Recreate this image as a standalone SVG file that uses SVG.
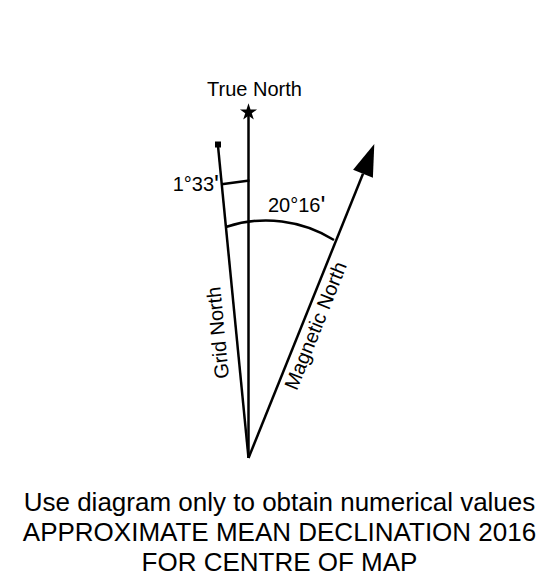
<svg xmlns="http://www.w3.org/2000/svg" width="559" height="588" viewBox="0 0 559 588">
<style>
  .ln { stroke: #000; stroke-width: 2.5; fill: none; }
  .t { font-family: "Liberation Sans", Arial, sans-serif; font-size: 20px; fill: #000; }
  .p { font-size: 26px; }
  .b { font-family: "Liberation Sans", Arial, sans-serif; font-size: 26px; fill: #000; text-anchor: middle; }
</style>
<rect width="559" height="588" fill="#fff"/>
<g id="connectors">
  <line class="ln" x1="248.5" y1="458" x2="248.5" y2="112"/>
  <line class="ln" x1="248.5" y1="458" x2="218" y2="146"/>
  <line class="ln" x1="248.5" y1="458" x2="363" y2="173.7"/>
  <line class="ln" x1="221.5" y1="184.3" x2="249.5" y2="180.5"/>
  <path class="ln" d="M 226.7 226.7 A 128 128 0 0 1 334 240"/>
</g>
<g id="true-north">
  <polygon fill="#000" points="248.5,103.3 250.52,109.51 257.05,109.51 251.77,113.35 253.79,119.56 248.5,115.72 243.21,119.56 245.23,113.35 239.95,109.51 246.48,109.51"/>
  <text class="t" x="207" y="96">True North</text>
</g>
<g id="grid-north">
  <rect x="215" y="141.5" width="6" height="6" fill="#000"/>
  <text class="t" transform="translate(229,378) rotate(-95.5)">Grid North</text>
</g>
<g id="magnetic-north">
  <polygon fill="#000" points="374.3,144 353.1,169.7 372.9,177.7"/>
  <text class="t" transform="translate(296.8,391.2) rotate(-68.2)">Magnetic North</text>
</g>
<g id="angle-grid">
  <text class="t" x="219" y="191" text-anchor="end">1°33<tspan class="p" dy="2">'</tspan></text>
</g>
<g id="angle-magnetic">
  <text class="t" x="268" y="212">20°16<tspan class="p" dy="2">'</tspan></text>
</g>
<g id="caption">
  <text class="b" x="279.5" y="511">Use diagram only to obtain numerical values</text>
  <text class="b" x="279.5" y="541">APPROXIMATE MEAN DECLINATION 2016</text>
  <text class="b" x="279.5" y="571">FOR CENTRE OF MAP</text>
</g>
</svg>
